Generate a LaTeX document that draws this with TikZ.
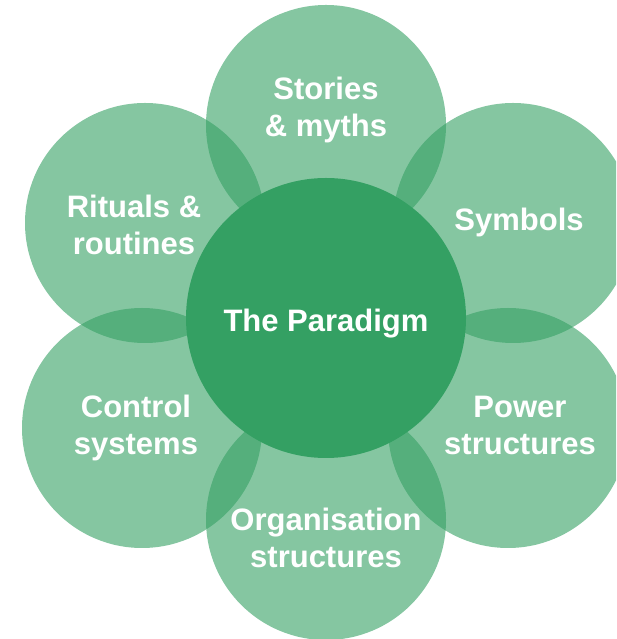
\documentclass[tikz,border=0pt]{standalone}
\usepackage{fontspec}
\setmainfont{Liberation Sans}
\usepackage{tikz}

\definecolor{paragreen}{RGB}{52,160,99}

\begin{document}
\begin{tikzpicture}[
  x=1pt, y=1pt,
  petal/.style={circle, fill=paragreen, fill opacity=0.6, minimum size=240pt, inner sep=0pt},
  core/.style={circle, fill=paragreen, minimum size=280pt, inner sep=0pt},
  lbl/.style={text=white, align=center, font=\bfseries\fontsize{31}{37}\selectfont}
]
  \path[use as bounding box, clip] (0,0) rectangle (616,639);
  % outer ring
  \node[petal] (stories) at (326,514) {};
  \node[petal] (symbols) at (513,416) {};
  \node[petal] (power) at (508,211) {};
  \node[petal] (organisation) at (326,119) {};
  \node[petal] (control) at (142,211) {};
  \node[petal] (rituals) at (145,416) {};
  % the core
  \node[core] (paradigm) at (326,321) {};
  % texts on top
  \node[lbl] (storiestxt) at (326,529) {Stories\\\& myths};
  \node[lbl] (symbolstxt) at (519,417) {Symbols};
  \node[lbl] (powertxt) at (520,214) {Power\\structures};
  \node[lbl] (organisationtxt) at (326,101.5) {Organisation\\structures};
  \node[lbl] (controltxt) at (136,211) {Control\\systems};
  \node[lbl] (ritualstxt) at (134,414) {Rituals \&\\routines};
  \node[lbl] (paradigmtxt) at (326,315) {The Paradigm};
\end{tikzpicture}
\end{document}
